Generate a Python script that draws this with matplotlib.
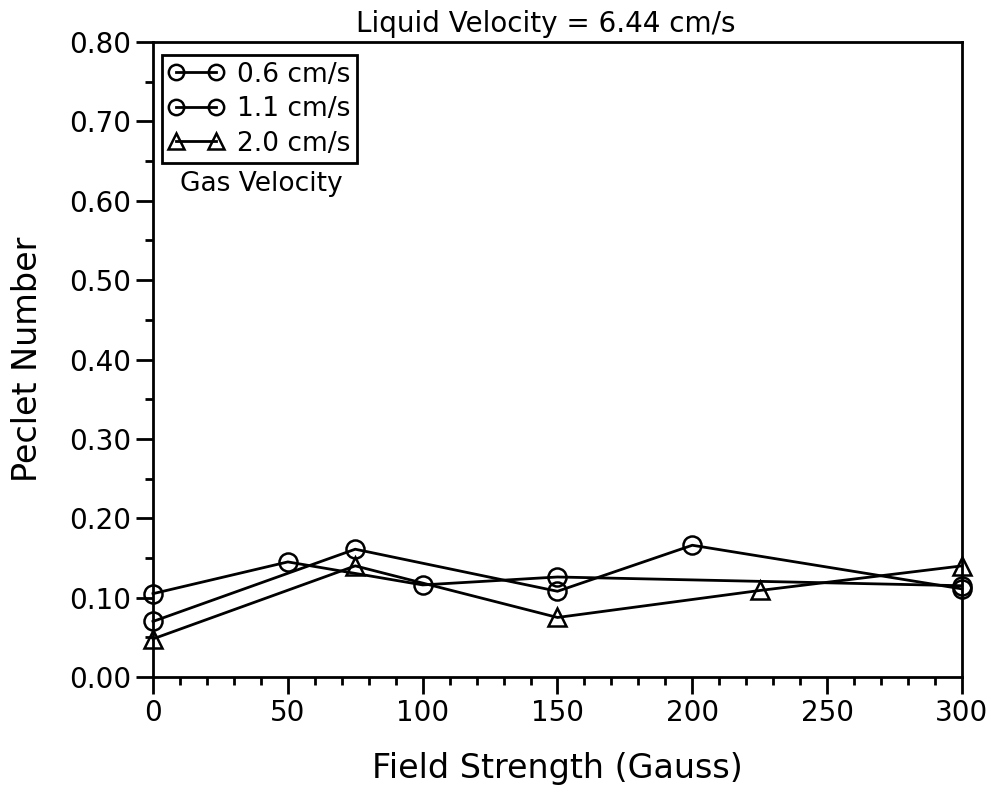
import numpy as np
import matplotlib
matplotlib.use("Agg")
import matplotlib.pyplot as plt
from matplotlib.ticker import MultipleLocator, FormatStrFormatter

# Peclet number vs. field strength, one series per gas velocity
labels = ["0.6 cm/s", "1.1 cm/s", "2.0 cm/s"]
x_06 = [0, 50, 100, 150, 300]
pe_06 = [0.105, 0.145, 0.116, 0.126, 0.115]
x_11 = [0, 75, 150, 200, 300]
pe_11 = [0.070, 0.161, 0.108, 0.166, 0.111]
x_20 = [0, 75, 150, 225, 300]
pe_20 = [0.048, 0.140, 0.075, 0.109, 0.140]

fig = plt.figure(figsize=(9.91, 7.96), dpi=100)
ax = fig.add_axes([0.1544, 0.1495, 0.8163, 0.7977])

style = dict(color="black", lw=2, mfc="none", mec="black", mew=1.8, clip_on=False)
ax.plot(x_06, pe_06, marker="o", ms=13, label=labels[0], **style)
ax.plot(x_11, pe_11, marker="o", ms=13, label=labels[1], **style)
ax.plot(x_20, pe_20, marker="^", ms=13, label=labels[2], **style)

ax.set_xlim(0, 300)
ax.set_ylim(0, 0.8)
ax.xaxis.set_major_locator(MultipleLocator(50))
ax.xaxis.set_minor_locator(MultipleLocator(10))
ax.yaxis.set_major_locator(MultipleLocator(0.1))
ax.yaxis.set_minor_locator(MultipleLocator(0.05))
ax.yaxis.set_major_formatter(FormatStrFormatter("%.2f"))
ax.tick_params(which="both", direction="out", width=2, top=False, right=False)
ax.tick_params(which="major", length=12, labelsize=20, pad=4)
ax.tick_params(which="minor", length=6)
for s in ax.spines.values():
    s.set_linewidth(2)

ax.set_xlabel("Field Strength (Gauss)", fontsize=24, labelpad=18)
ax.set_ylabel("Peclet Number", fontsize=24, labelpad=18)
ax.set_title("Liquid Velocity = 6.44 cm/s", fontsize=20, pad=7, x=0.485)

leg = ax.legend(loc="upper left", bbox_to_anchor=(0.011, 0.9795), fontsize=19,
                numpoints=2, handlelength=2.1, handletextpad=0.5,
                borderpad=0.25, labelspacing=0.32, borderaxespad=0,
                fancybox=False, edgecolor="black", markerscale=0.85)
leg.get_frame().set_linewidth(2)
leg.get_frame().set_alpha(1)
ax.text(0.033, 0.797, "Gas Velocity", transform=ax.transAxes, fontsize=19,
        va="top", ha="left")

fig.savefig("out.png", dpi=100)
